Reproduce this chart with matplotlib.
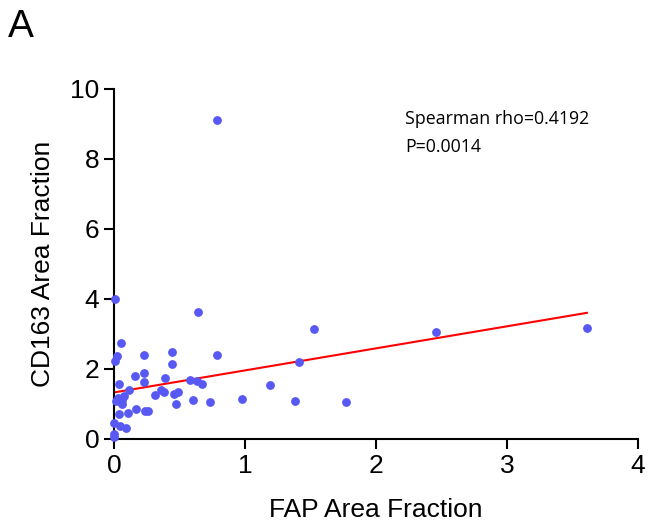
import numpy as np
import matplotlib.pyplot as plt

# data (FAP vs CD163 area fraction)
fap = [0.01, 0.64, 0.053, 0.02, 0.01, 0.23, 0.44, 0.44, 0.79, 0.16,
       0.23, 0.23, 0.038, 0.39, 0.58, 0.63, 0.67, 0.115, 0.076, 0.31,
       0.36, 0.38, 0.46, 0.49, 0.013, 0.033, 0.061, 0.061, 0.47, 0.60,
       0.73, 0.98, 0.036, 0.107, 0.17, 0.24, 0.26, 0.0, 0.046, 0.094,
       0.0, 0.0, 0.79, 1.53, 1.41, 1.19, 1.38, 1.77, 2.46, 3.61]
cd163 = [4.0, 3.63, 2.73, 2.37, 2.23, 2.39, 2.5, 2.14, 2.4, 1.8,
         1.9, 1.62, 1.57, 1.73, 1.69, 1.67, 1.57, 1.4, 1.24, 1.27,
         1.4, 1.34, 1.29, 1.34, 1.09, 1.16, 1.11, 0.99, 1.0, 1.12,
         1.07, 1.13, 0.72, 0.73, 0.85, 0.81, 0.81, 0.45, 0.37, 0.32,
         0.14, 0.05, 9.11, 3.14, 2.2, 1.54, 1.09, 1.05, 3.07, 3.18]

# regression line as drawn in the reference
fit_intercept = 1.33
fit_slope = 0.63

stats_text = "Spearman rho=0.4192\nP=0.0014"

plt.rcParams['font.family'] = ['Liberation Sans', 'DejaVu Sans']

fig = plt.figure(figsize=(6.51, 5.31), dpi=100)
ax = fig.add_axes([114/651, 92/531, 524/651, 350/531])

ax.scatter(fap, cd163, s=40, color='#5858F2', zorder=3, clip_on=False, linewidths=0)
xl = np.array([0, max(fap)])
ax.plot(xl, fit_intercept + fit_slope*xl, color='#FF0000', lw=1.5, zorder=2)

ax.set_xlim(0, 4)
ax.set_ylim(0, 10)
ax.set_xticks([0, 1, 2, 3, 4])
ax.set_yticks([0, 2, 4, 6, 8, 10])
for s in ['top', 'right']:
    ax.spines[s].set_visible(False)
for s in ['left', 'bottom']:
    ax.spines[s].set_linewidth(1.5)
ax.tick_params(width=1.5, length=7, labelsize=19, direction='out')

ax.set_xlabel("FAP Area Fraction", fontsize=19, labelpad=15)
ax.set_ylabel("CD163 Area Fraction", fontsize=19, labelpad=11)

ax.text(0.556, 0.94, stats_text, transform=ax.transAxes, fontsize=12.8,
        family=['Open Sans', 'DejaVu Sans'], va='top', ha='left', linespacing=1.7)
fig.text(8/651, 1 - 37/531, "A", fontsize=28, ha='left', va='baseline')

fig.savefig("out.png", dpi=100)
